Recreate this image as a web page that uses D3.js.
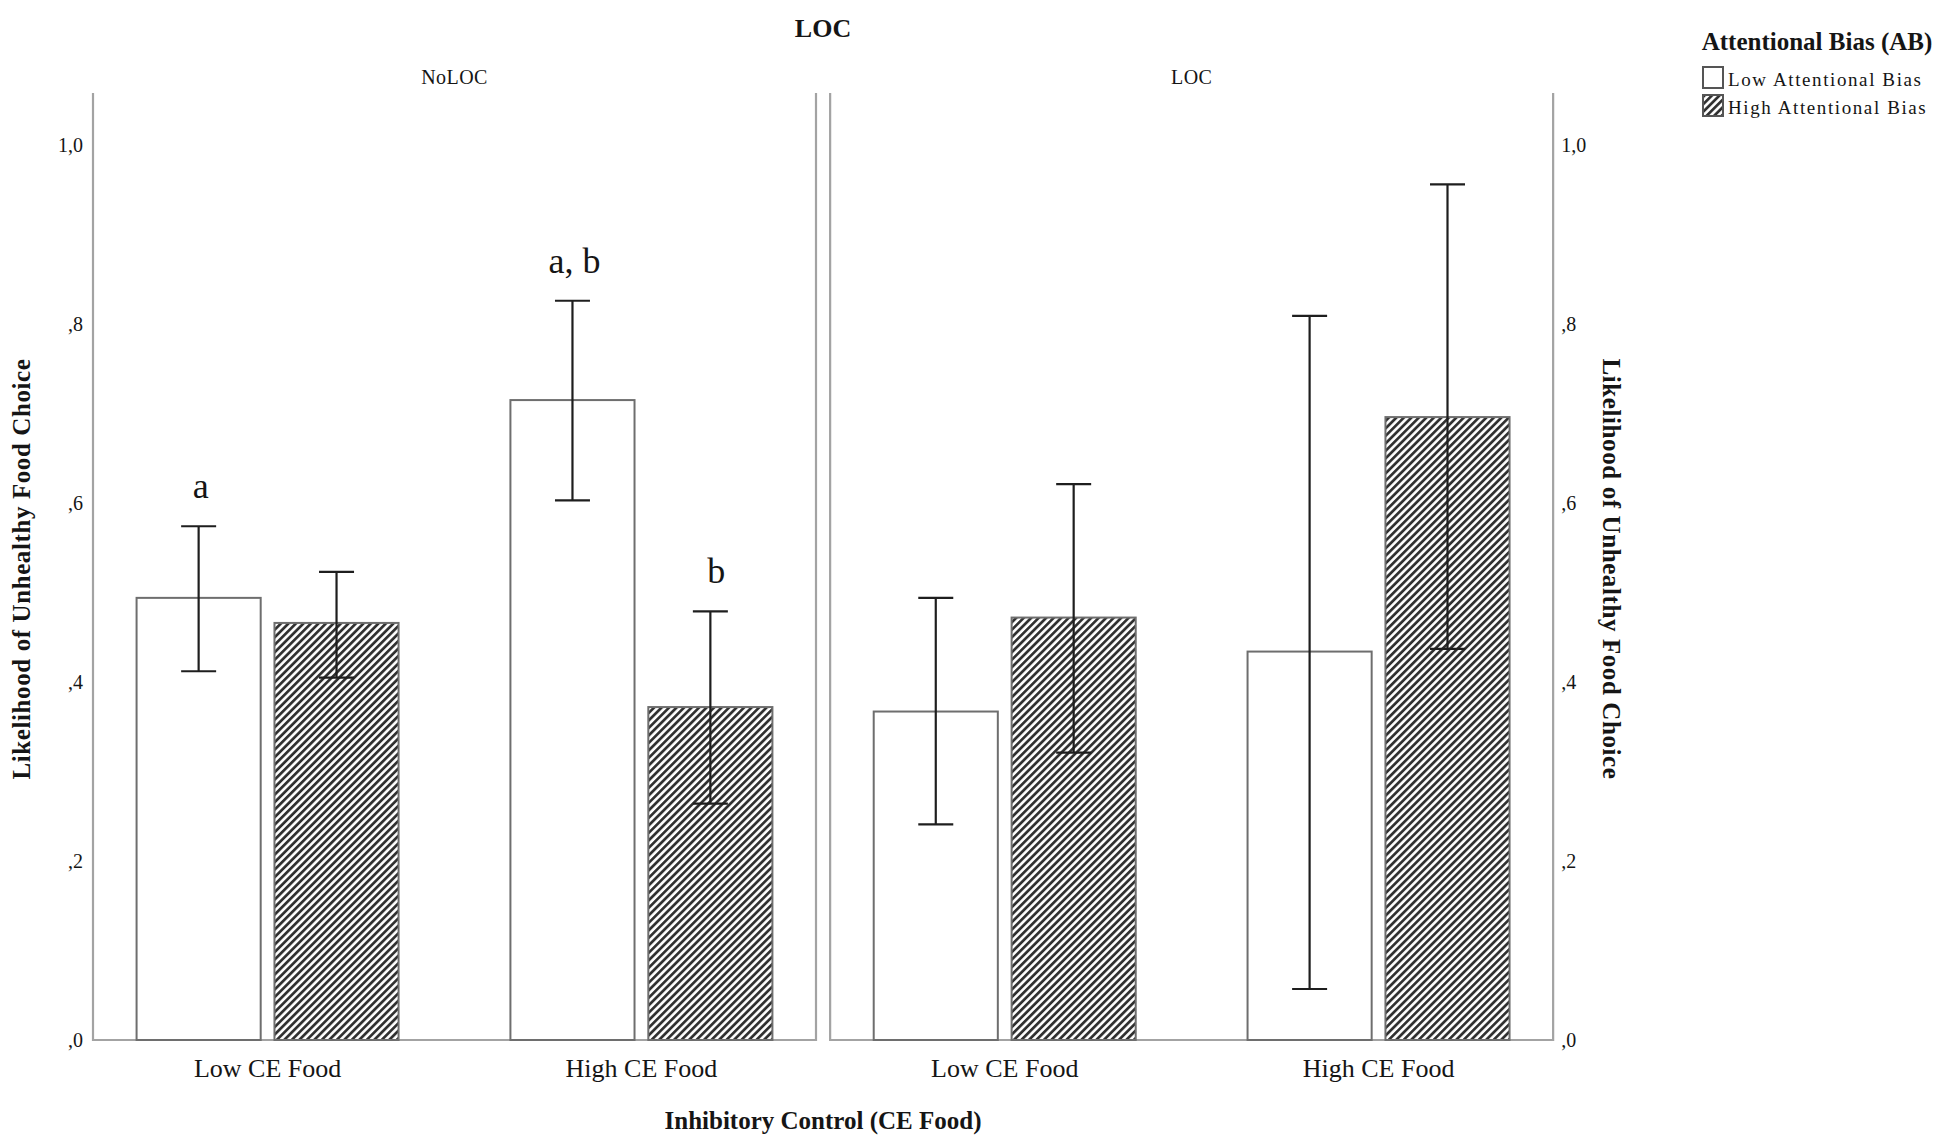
<!DOCTYPE html>
<html>
<head>
<meta charset="utf-8">
<script src="https://cdn.jsdelivr.net/npm/d3@7"></script>
<style>
  body { margin: 0; background: #fff; }
  text { font-family: "Liberation Serif", "Times New Roman", serif; fill: #151515; }
</style>
</head>
<body>
<svg id="chart"></svg>
<script>
// data
const panels = ["NoLOC", "LOC"];
const groups = ["Low CE Food", "High CE Food"];
const series = ["Low Attentional Bias", "High Attentional Bias"];

// means per group (Low CE, High CE) and their error bar ends [low, high]
const noLocLowMean = [0.494, 0.715];
const noLocLowErr = [[0.412, 0.574], [0.603, 0.826]];
const noLocHighMean = [0.466, 0.372];
const noLocHighErr = [[0.405, 0.523], [0.264, 0.479]];
const locLowMean = [0.367, 0.434];
const locLowErr = [[0.241, 0.494], [0.057, 0.809]];
const locHighMean = [0.472, 0.696];
const locHighErr = [[0.321, 0.621], [0.437, 0.956]];

const yTicks = [0, 0.2, 0.4, 0.6, 0.8, 1.0];
const yTickLabels = [",0", ",2", ",4", ",6", ",8", "1,0"];

const letters = [
  { panel: "NoLOC", group: "Low CE Food", s: 0, text: "a" },
  { panel: "NoLOC", group: "High CE Food", s: 0, text: "a, b" },
  { panel: "NoLOC", group: "High CE Food", s: 1, text: "b" }
];

// build rows for drawing
const rows = [];
groups.forEach((g, i) => {
  rows.push({ panel: "NoLOC", group: g, s: 0, mean: noLocLowMean[i], err: noLocLowErr[i] });
  rows.push({ panel: "NoLOC", group: g, s: 1, mean: noLocHighMean[i], err: noLocHighErr[i] });
  rows.push({ panel: "LOC", group: g, s: 0, mean: locLowMean[i], err: locLowErr[i] });
  rows.push({ panel: "LOC", group: g, s: 1, mean: locHighMean[i], err: locHighErr[i] });
});

const W = 1950, H = 1146;
const panelW = 723, yTop = 93, base = 1040;
const frameColor = "#a3a3a3";

const svg = d3.select("#chart").attr("width", W).attr("height", H);

const defs = svg.append("defs");
const pat = defs.append("pattern")
  .attr("id", "hatch")
  .attr("patternUnits", "userSpaceOnUse")
  .attr("width", 5.3).attr("height", 5.3)
  .attr("patternTransform", "rotate(45)");
pat.append("rect").attr("width", 5.3).attr("height", 5.3).attr("fill", "#fff");
pat.append("line").attr("x1", 1.4).attr("x2", 1.4).attr("y1", 0).attr("y2", 5.3)
  .attr("stroke", "#2e2e2e").attr("stroke-width", 2.7);

const px = d3.scaleBand().domain(panels).range([93, 93 + 2 * panelW + 14]).paddingInner(14 / panelW);
const y = d3.scaleLinear().domain([0, 1]).range([base, 145]);
const x0 = d3.scalePoint().domain(groups).range([0, panelW]).padding(0.467);
const x1 = d3.scaleBand().domain(d3.range(series.length)).range([-131, 131]).paddingInner(0.1);

// panels
panels.forEach(p => {
  const g = svg.append("g").attr("transform", `translate(${px(p)},0)`);
  g.append("path")
    .attr("d", `M0,${yTop}V${base}H${panelW}V${yTop}`)
    .attr("fill", "none").attr("stroke", frameColor).attr("stroke-width", 2.2);
  g.append("text")
    .attr("x", panelW / 2).attr("y", 84)
    .attr("text-anchor", "middle").attr("font-size", 20).attr("letter-spacing", 0.4)
    .text(p);
  groups.forEach(gr => {
    g.append("text")
      .attr("x", x0(gr)).attr("y", 1077)
      .attr("text-anchor", "middle").attr("font-size", 26)
      .text(gr);
  });

  const data = rows.filter(r => r.panel === p);
  const bx = d => x0(d.group) + x1(d.s);
  g.selectAll("rect.bar").data(data).join("rect")
    .attr("class", "bar")
    .attr("x", bx)
    .attr("y", d => y(d.mean))
    .attr("width", x1.bandwidth())
    .attr("height", d => base - y(d.mean))
    .attr("fill", d => d.s === 0 ? "#fff" : "url(#hatch)")
    .attr("stroke", "#6e6e6e").attr("stroke-width", 2);

  const cx = d => bx(d) + x1.bandwidth() / 2;
  const eb = g.selectAll("g.err").data(data).join("g").attr("class", "err")
    .attr("stroke", "#1e1e1e").attr("stroke-width", 2.2);
  eb.append("line").attr("x1", cx).attr("x2", cx)
    .attr("y1", d => y(d.err[0])).attr("y2", d => y(d.err[1]));
  eb.append("line").attr("x1", d => cx(d) - 17.5).attr("x2", d => cx(d) + 17.5)
    .attr("y1", d => y(d.err[0])).attr("y2", d => y(d.err[0]));
  eb.append("line").attr("x1", d => cx(d) - 17.5).attr("x2", d => cx(d) + 17.5)
    .attr("y1", d => y(d.err[1])).attr("y2", d => y(d.err[1]));

  g.selectAll("text.sig").data(letters.filter(l => l.panel === p)).join("text")
    .attr("class", "sig")
    .attr("x", d => x0(d.group) + x1(d.s) + x1.bandwidth() / 2 + (d.s === 1 ? 6 : 2))
    .attr("y", d => {
      const r = rows.find(r => r.panel === d.panel && r.group === d.group && r.s === d.s);
      return y(r.err[1]) - 28;
    })
    .attr("text-anchor", "middle").attr("font-size", 36)
    .text(d => d.text);
});

// y axes, left and right
const axL = d3.axisLeft(y).tickValues(yTicks).tickSize(0).tickPadding(10)
  .tickFormat((d, i) => yTickLabels[i]);
const axR = d3.axisRight(y).tickValues(yTicks).tickSize(0).tickPadding(8)
  .tickFormat((d, i) => yTickLabels[i]);
const gL = svg.append("g").attr("transform", `translate(${px("NoLOC")},0)`).call(axL);
const gR = svg.append("g").attr("transform", `translate(${px("LOC") + panelW},0)`).call(axR);
[gL, gR].forEach(a => {
  a.select(".domain").remove();
  a.selectAll("text").attr("font-size", 20).attr("font-family", "Liberation Serif").attr("fill", "#222");
});

// titles
svg.append("text").attr("x", 823).attr("y", 37)
  .attr("text-anchor", "middle").attr("font-size", 26).attr("font-weight", "bold")
  .text("LOC");
svg.append("text").attr("x", 823).attr("y", 1129)
  .attr("text-anchor", "middle").attr("font-size", 25).attr("font-weight", "bold")
  .text("Inhibitory Control (CE Food)");
svg.append("text")
  .attr("transform", "translate(30,569) rotate(-90)")
  .attr("text-anchor", "middle").attr("font-size", 25).attr("font-weight", "bold")
  .attr("letter-spacing", 0.6)
  .text("Likelihood of Unhealthy Food Choice");
svg.append("text")
  .attr("transform", "translate(1603,569) rotate(90)")
  .attr("text-anchor", "middle").attr("font-size", 25).attr("font-weight", "bold")
  .attr("letter-spacing", 0.6)
  .text("Likelihood of Unhealthy Food Choice");

// legend
const lg = svg.append("g");
lg.append("text").attr("x", 1817).attr("y", 50)
  .attr("text-anchor", "middle").attr("font-size", 25).attr("font-weight", "bold")
  .text("Attentional Bias (AB)");
const li = lg.selectAll("g.item").data(series).join("g").attr("class", "item")
  .attr("transform", (d, i) => `translate(1703,${67 + i * 28})`);
li.append("rect").attr("width", 20).attr("height", 21)
  .attr("fill", (d, i) => i === 0 ? "#fff" : "url(#hatch)")
  .attr("stroke", "#555").attr("stroke-width", 2);
li.append("text").attr("x", 25).attr("y", 19)
  .attr("font-size", 19).attr("letter-spacing", 1.6)
  .text(d => d);
</script>
</body>
</html>
